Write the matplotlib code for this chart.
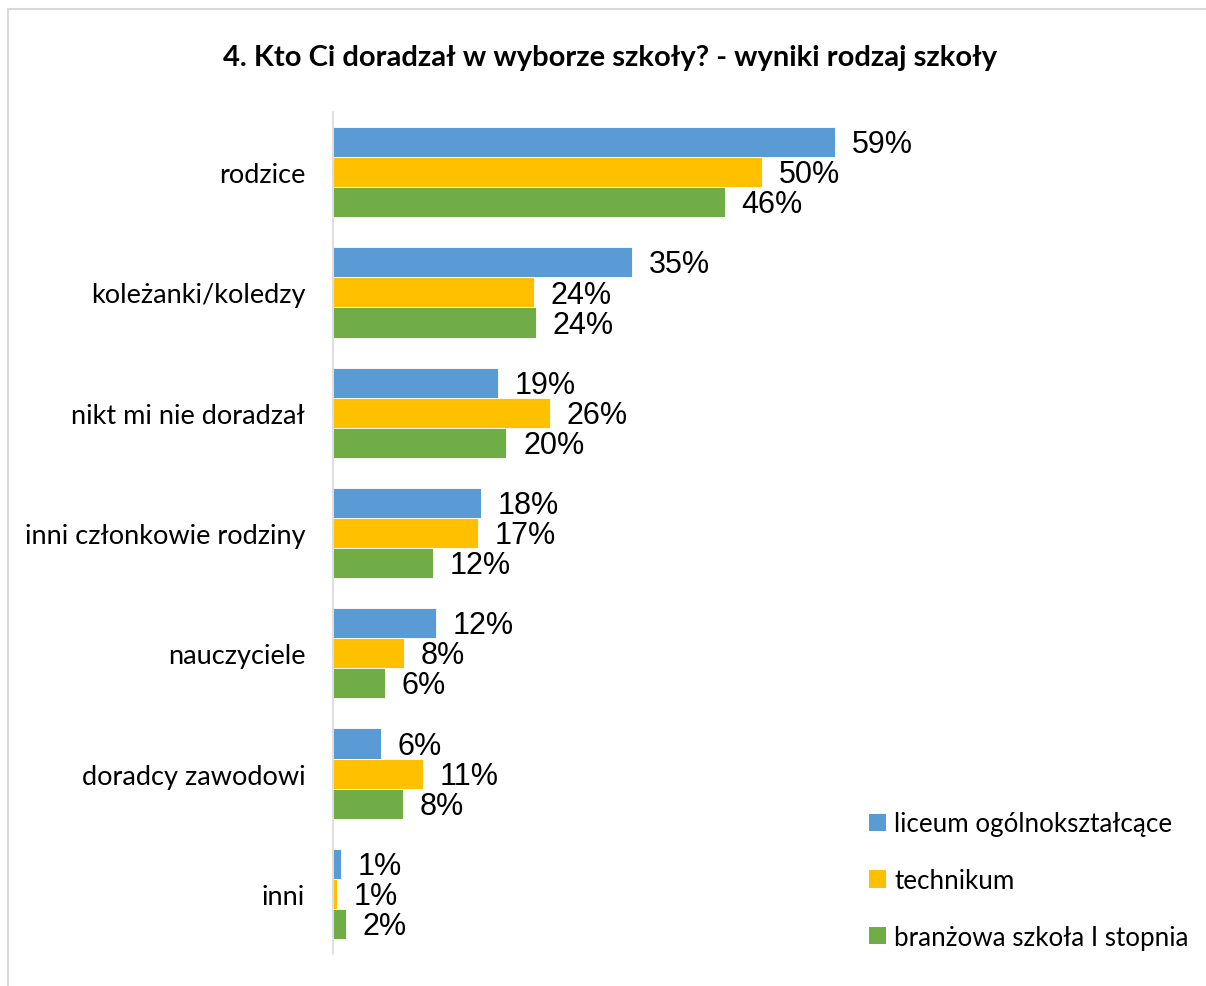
import numpy as np
import matplotlib.pyplot as plt
from matplotlib.patches import Rectangle, Patch

# Survey results: who advised the pupil (percent)
categories = ["rodzice", "koleżanki/koledzy", "nikt mi nie doradzał",
              "inni członkowie rodziny", "nauczyciele", "doradcy zawodowi", "inni"]
series = ["liceum ogólnokształcące", "technikum", "branżowa szkoła I stopnia"]
liceum = [59.1, 35.2, 19.4, 17.4, 12.1, 5.6, 0.9]
technikum = [50.5, 23.6, 25.5, 17.1, 8.4, 10.6, 0.5]
branzowa = [46.1, 23.9, 20.4, 11.8, 6.1, 8.2, 1.5]
liceum_lbl = ["59%", "35%", "19%", "18%", "12%", "6%", "1%"]
technikum_lbl = ["50%", "24%", "26%", "17%", "8%", "11%", "1%"]
branzowa_lbl = ["46%", "24%", "20%", "12%", "6%", "8%", "2%"]

colors = ["#5B9BD5", "#FFC000", "#70AD47"]
cat_font = "Lato"
val_font = "Liberation Sans"

fig = plt.figure(figsize=(12.06, 9.87), dpi=100)
ax = fig.add_axes([333 / 1206, 1 - 955 / 987, 595 / 1206, 842 / 987])

y = np.arange(len(categories))
h = 0.25
data = [(liceum, liceum_lbl), (technikum, technikum_lbl), (branzowa, branzowa_lbl)]
for i, (vals, lbls) in enumerate(data):
    pos = y + (i - 1) * h
    ax.barh(pos, vals, height=h, color=colors[i], edgecolor="white", linewidth=0.6)
    for p, v, t in zip(pos, vals, lbls):
        ax.annotate(t, (v, p), xytext=(12, -1.5), textcoords="offset points",
                    ha="left", va="center", fontsize=22, family=val_font)

ax.set_xlim(0, 70)
ax.set_ylim(len(categories) - 0.5, -0.5)
ax.set_yticks(y)
ax.set_yticklabels(categories, fontsize=19.5, family=cat_font)
ax.tick_params(axis="y", length=0, pad=20)
ax.set_xticks([])
for s in ["top", "right", "bottom"]:
    ax.spines[s].set_visible(False)
ax.spines["left"].set_color("#D9D9D9")
ax.spines["left"].set_linewidth(1.2)

fig.text(0.5 * (222 + 998) / 1206, 1 - 58 / 987,
         "4. Kto Ci doradzał w wyborze szkoły? - wyniki rodzaj szkoły",
         ha="center", va="center", fontsize=21, fontweight="bold", family=cat_font)

handles = [Patch(facecolor=c) for c in colors]
fig.legend(handles, series, loc="upper left", bbox_to_anchor=(846 / 1206, 1 - 789 / 987),
           frameon=False, prop={"family": cat_font, "size": 18.7},
           handlelength=0.65, handleheight=0.65, handletextpad=0.3, labelspacing=1.22)

# chart frame
fig.patches.append(Rectangle((8 / 1206, -0.1), 1.2, 1.1 - 10 / 987, transform=fig.transFigure,
                             fill=False, edgecolor="#D9D9D9", linewidth=1.5))

fig.savefig("out.png", dpi=100)
